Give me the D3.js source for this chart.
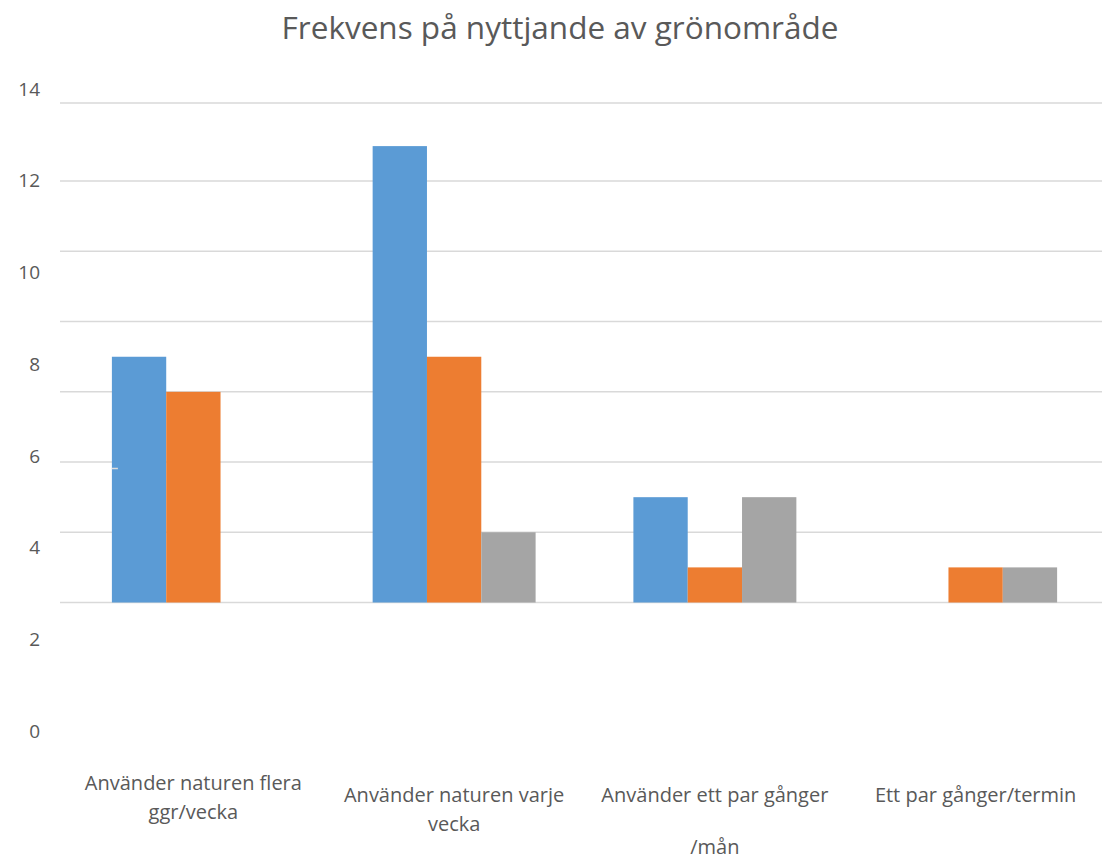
<!DOCTYPE html>
<html lang="sv">
<head>
	<meta charset="UTF-8">
	<title>Frekvens på nyttjande av grönområde</title>
	<script src="https://d3js.org/d3.v7.min.js"></script>
	<style type="text/css">
		body { margin: 0; background: #fff; }
		.grid line { stroke: #d9d9d9; stroke-width: 1.5; }
		.tick-label { font-family: "Open Sans", sans-serif; font-size: 19px; fill: #595959; }
		.cat-label { font-family: "Open Sans", sans-serif; font-size: 20px; fill: #595959; }
		.title { font-family: "Open Sans", sans-serif; font-size: 31.5px; fill: #595959; }
	</style>
</head>
<body>
<script type="text/javascript">

	// data
	var categories = ["flera", "varje", "manad", "termin"];
	var categoryLines = [
		["Använder naturen flera", "ggr/vecka"],
		["Använder naturen varje", "vecka"],
		["Använder ett par gånger", "", "/mån"],
		["Ett par gånger/termin"]
	];
	var series = ["s1", "s2", "s3"];
	var s1Values = [7, 13, 3, 0];
	var s2Values = [6, 7, 1, 1];
	var s3Values = [0, 2, 3, 1];
	var tickValues = [0, 2, 4, 6, 8, 10, 12, 14];
	var colors = ["#5b9bd5", "#ed7d31", "#a5a5a5"];

	var W = 1102, H = 858;

	var svg = d3.select('body').append('svg')
		.attr('width', W)
		.attr('height', H);

	// scales
	var x0 = d3.scaleBand().domain(categories).range([63, 1106]);
	var x1 = d3.scaleBand().domain(series).range([0, x0.bandwidth()]).paddingOuter(0.9);
	var y = d3.scaleLinear().domain([0, 14]).range([602.5, 111]);
	// the gridlines in the picture are not spaced quite evenly at the top
	var yGrid = d3.scaleLinear().domain([0, 12, 14]).range([602.5, 181, 103]);
	// tick labels sit on their own spacing, not on the gridlines
	var yLabel = d3.scaleLinear().domain([0, 14]).range([731, 89]);
	var color = d3.scaleOrdinal().domain(series).range(colors);

	//gridlines
	svg.append('g')
		.attr('class', 'grid')
		.selectAll('line')
		.data(tickValues)
		.enter().append('line')
		.attr('x1', 60)
		.attr('x2', W)
		.attr('y1', function (d) { return yGrid(d); })
		.attr('y2', function (d) { return yGrid(d); });

	//tick labels
	svg.append('g')
		.selectAll('text')
		.data(tickValues)
		.enter().append('text')
		.attr('class', 'tick-label')
		.attr('x', 40)
		.attr('y', function (d) { return yLabel(d); })
		.attr('dy', '0.35em')
		.style('text-anchor', 'end')
		.text(function (d) { return d; });

	//bars
	var rows = categories.map(function (c, i) {
		return { cat: c, values: [s1Values[i], s2Values[i], s3Values[i]] };
	});

	var groups = svg.append('g')
		.selectAll('.group')
		.data(rows)
		.enter().append('g')
		.attr('class', 'group')
		.attr('transform', function (d) { return 'translate(' + x0(d.cat) + ',0)'; });

	groups.selectAll('rect')
		.data(function (d) {
			return series.map(function (s, j) { return { key: s, value: d.values[j] }; });
		})
		.enter().append('rect')
		.attr('x', function (d) { return x1(d.key); })
		.attr('width', x1.bandwidth())
		.attr('y', function (d) { return y(d.value); })
		.attr('height', function (d) { return y(0) - y(d.value); })
		.style('fill', function (d) { return color(d.key); });

	// small stray tick on the first bar
	svg.append('line')
		.attr('x1', x0(categories[0]) + x1('s1'))
		.attr('x2', x0(categories[0]) + x1('s1') + 6)
		.attr('y1', 468.5)
		.attr('y2', 468.5)
		.style('stroke', '#dddddd')
		.style('stroke-width', 1.5);

	//category labels
	var labelTop = [783, 795, 795, 795];
	var lineHeight = 26;
	var labels = svg.append('g')
		.selectAll('.cat')
		.data(categories)
		.enter().append('text')
		.attr('class', 'cat-label')
		.style('text-anchor', 'middle');

	labels.each(function (c, i) {
		var t = d3.select(this);
		categoryLines[i].forEach(function (line, k) {
			t.append('tspan')
				.attr('x', x0(c) + x0.bandwidth() / 2)
				.attr('y', labelTop[i] + k * (i === 2 ? lineHeight : 28.5))
				.attr('dy', '0.35em')
				.text(line);
		});
	});

	//title
	svg.append('text')
		.attr('class', 'title')
		.attr('x', 560)
		.attr('y', 28)
		.attr('dy', '0.35em')
		.style('text-anchor', 'middle')
		.text('Frekvens på nyttjande av grönområde');

</script>
</body>
</html>
